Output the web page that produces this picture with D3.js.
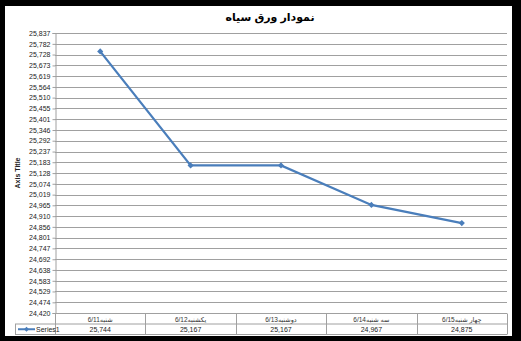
<!DOCTYPE html>
<html>
<head>
<meta charset="utf-8">
<script src="https://cdn.jsdelivr.net/npm/d3@7"></script>
<style>
  html, body { margin: 0; padding: 0; background: #fff; }
</style>
</head>
<body>
<script>
// chart data
const categories = ["شنبه6/11", "یکشنبه6/12", "دوشنبه6/13", "سه شنبه6/14", "چهار شنبه6/15"];
const series1 = [25744, 25167, 25167, 24967, 24875];
const yTicks = [24420, 24474, 24529, 24583, 24638, 24692, 24747, 24801, 24856, 24910, 24965,
  25019, 25074, 25128, 25183, 25237, 25292, 25346, 25401, 25455, 25510, 25564, 25619,
  25673, 25728, 25782, 25837];
const seriesName = "Series1";
const chartTitle = "نمودار ورق سیاه";
const axisTitle = "Axis Title";

const W = 521, H = 341;
const plot = { left: 55, right: 507, top: 33, bottom: 313 };
const tableLeft = 15, rowH = 10.5;
const blue = "#4a7ebb";
const font = "'Liberation Sans', 'DejaVu Sans', sans-serif";

const svg = d3.select("body").append("svg")
  .attr("width", W).attr("height", H)
  .style("font-family", font);

// black frame
svg.append("rect").attr("width", W).attr("height", H).attr("fill", "#000");
svg.append("rect").attr("x", 5).attr("y", 6).attr("width", 507).attr("height", 330).attr("fill", "#fff");

const x = d3.scaleBand().domain(categories).range([plot.left, plot.right]);
const y = d3.scaleLinear().domain([yTicks[0], yTicks[yTicks.length - 1]]).range([plot.bottom, plot.top]);

// gridlines
svg.append("g").selectAll("line").data(yTicks).join("line")
  .attr("x1", plot.left).attr("x2", plot.right)
  .attr("y1", d => Math.round(y(d)) + 0.5).attr("y2", d => Math.round(y(d)) + 0.5)
  .attr("stroke", "#a0a0a0").attr("stroke-width", 1);

// y axis
const yAxis = svg.append("g")
  .attr("transform", `translate(${plot.left + 0.5},0)`)
  .call(d3.axisLeft(y).tickValues(yTicks).tickSize(3).tickFormat(d3.format(",")));
yAxis.select(".domain").attr("stroke", "#a0a0a0");
yAxis.selectAll(".tick line").attr("stroke", "#a0a0a0");
yAxis.selectAll(".tick text").attr("font-size", 7).attr("font-family", font).attr("fill", "#222").attr("x", -5);

// axis title
svg.append("text")
  .attr("transform", `translate(20,${(plot.top + plot.bottom) / 2}) rotate(-90)`)
  .attr("text-anchor", "middle")
  .attr("font-size", 7).attr("font-weight", "bold").attr("fill", "#222")
  .text(axisTitle);

// title
svg.append("text")
  .attr("x", 270).attr("y", 21)
  .attr("text-anchor", "middle")
  .attr("font-size", 11).attr("font-weight", "bold").attr("fill", "#000")
  .text(chartTitle);

// data table
const tbl = svg.append("g").attr("stroke", "#a0a0a0").attr("fill", "none");
const t0 = plot.bottom + 0.5, t1 = t0 + rowH, t2 = t1 + rowH;
tbl.append("line").attr("x1", plot.left).attr("x2", plot.right).attr("y1", t0).attr("y2", t0);
tbl.append("line").attr("x1", tableLeft).attr("x2", plot.right).attr("y1", t1).attr("y2", t1);
tbl.append("line").attr("x1", tableLeft).attr("x2", plot.right).attr("y1", t2).attr("y2", t2);
tbl.append("line").attr("x1", tableLeft + 0.5).attr("x2", tableLeft + 0.5).attr("y1", t1).attr("y2", t2);
tbl.selectAll("line.v").data(categories).join("line").attr("class", "v")
  .attr("x1", d => Math.round(x(d)) + 0.5).attr("x2", d => Math.round(x(d)) + 0.5)
  .attr("y1", t0).attr("y2", t2);
tbl.append("line").attr("x1", plot.right + 0.5).attr("x2", plot.right + 0.5).attr("y1", t0).attr("y2", t2);

svg.append("g").selectAll("text").data(categories).join("text")
  .attr("x", d => x(d) + x.bandwidth() / 2).attr("y", t0 + 8)
  .attr("text-anchor", "middle").attr("font-size", 6.5).attr("fill", "#333")
  .text(d => d);

svg.append("g").selectAll("text").data(series1).join("text")
  .attr("x", (d, i) => x(categories[i]) + x.bandwidth() / 2).attr("y", t1 + 8)
  .attr("text-anchor", "middle").attr("font-size", 7).attr("fill", "#222")
  .text(d => d3.format(",")(d));

// legend key in table
const ky = t1 + rowH / 2;
svg.append("line").attr("x1", tableLeft + 3).attr("x2", tableLeft + 20).attr("y1", ky).attr("y2", ky)
  .attr("stroke", blue).attr("stroke-width", 2);
svg.append("path").attr("d", d3.symbol(d3.symbolDiamond2, 16)())
  .attr("transform", `translate(${tableLeft + 11.5},${ky})`).attr("fill", blue);
svg.append("text").attr("x", tableLeft + 21).attr("y", t1 + 8)
  .attr("font-size", 7).attr("fill", "#222").text(seriesName);

// series line
const cx = (d, i) => x(categories[i]) + x.bandwidth() / 2;
svg.append("path").datum(series1)
  .attr("d", d3.line().x(cx).y(d => y(d)))
  .attr("fill", "none").attr("stroke", blue).attr("stroke-width", 2.25);
svg.append("g").selectAll("path").data(series1).join("path")
  .attr("d", d3.symbol(d3.symbolDiamond2, 24)())
  .attr("transform", (d, i) => `translate(${cx(d, i)},${y(d)})`)
  .attr("fill", blue);
</script>
</body>
</html>
